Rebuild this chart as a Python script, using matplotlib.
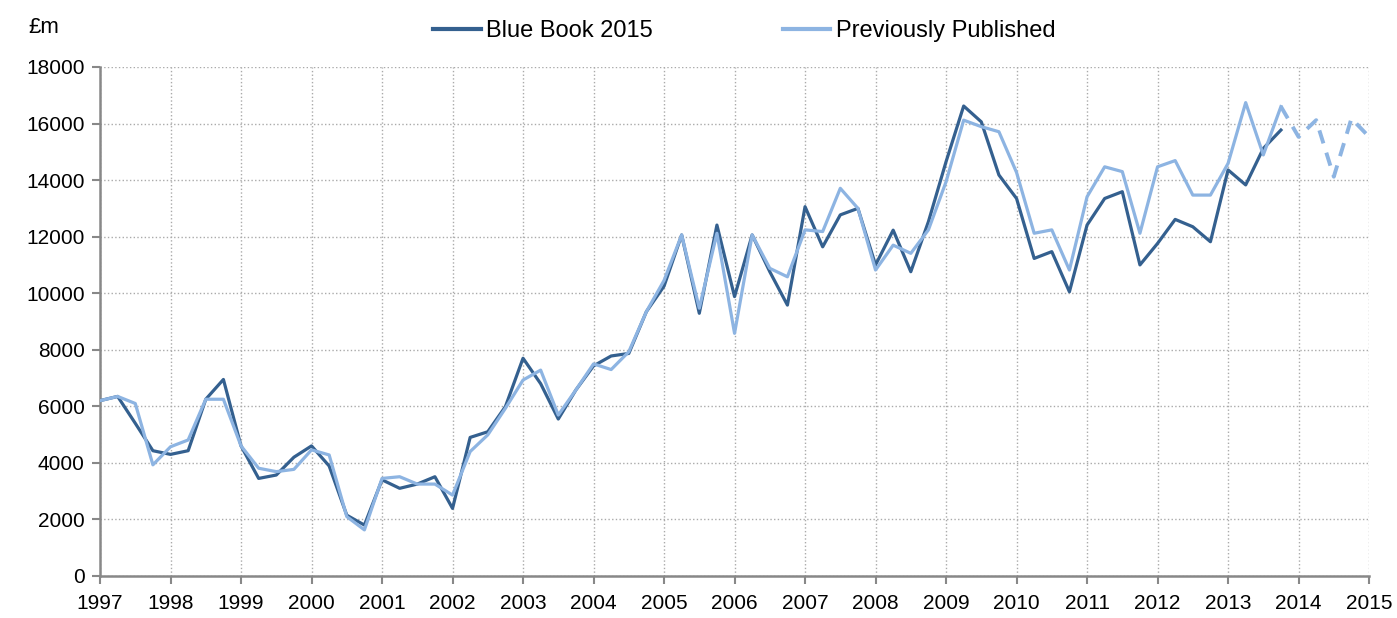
import numpy as np
import matplotlib.pyplot as plt

plt.rcParams['font.family'] = ['Liberation Sans', 'DejaVu Sans']

# quarterly figures, £m, starting 1997 Q1
blue_book_2015 = [6200, 6350, 5400, 4430, 4300, 4430, 6250, 6950,
                  4600, 3450, 3570, 4200, 4600, 3890, 2150, 1800,
                  3400, 3100, 3250, 3510, 2390, 4900, 5100, 5990,
                  7700, 6800, 5550, 6580, 7430, 7780, 7870, 9350,
                  10250, 12060, 9290, 12410, 9880, 12060, 10760, 9580,
                  13060, 11640, 12770, 13000, 11000, 12230, 10760, 12530,
                  14650, 16620, 16060, 14180, 13350, 11230, 11470, 10050,
                  12410, 13350, 13590, 11000, 11760, 12610, 12350, 11820,
                  14360, 13830, 15120, 15770]

prev_published = [6200, 6350, 6100, 3930, 4570, 4810, 6250, 6250,
                  4600, 3810, 3690, 3770, 4460, 4280, 2100, 1630,
                  3450, 3510, 3250, 3250, 2860, 4400, 4990, 5930,
                  6930, 7280, 5690, 6580, 7500, 7300, 7930, 9350,
                  10450, 12060, 9470, 12120, 8580, 12060, 10880, 10580,
                  12240, 12180, 13710, 13000, 10820, 11700, 11410, 12240,
                  13940, 16120, 15890, 15710, 14270, 12120, 12240, 10820,
                  13410, 14470, 14300, 12120, 14470, 14690, 13470, 13470,
                  14590, 16740, 14890, 16600]
# later quarters of the previous estimate, shown dashed
prev_published_tail = [15530, 16120, 14120, 16180, 15530]

years = list(range(1997, 2016))
yticks = list(range(0, 18001, 2000))

dark = '#34608F'
light = '#8DB4E2'

x_bb = 1997 + 0.25 * np.arange(len(blue_book_2015))
x_pp = 1997 + 0.25 * np.arange(len(prev_published))
x_tail = 1997 + 0.25 * np.arange(len(prev_published) - 1,
                                 len(prev_published) + len(prev_published_tail))
y_tail = [prev_published[-1]] + prev_published_tail

fig = plt.figure(figsize=(13.97, 6.18), dpi=100)
ax = fig.add_axes([0.0716, 0.068, 0.9084, 0.8236])

ax.plot(x_bb, blue_book_2015, color=dark, lw=2.3, label='Blue Book 2015', zorder=3)
ax.plot(x_pp, prev_published, color=light, lw=2.3, label='Previously Published', zorder=4)
ax.plot(x_tail, y_tail, color=light, lw=2.8, ls=(0, (3.5, 2.5)), zorder=4)

ax.set_xlim(1997, 2015)
ax.set_ylim(0, 18000)
ax.set_xticks(years)
ax.set_yticks(yticks)
ax.tick_params(axis='both', labelsize=15, colors='#888888', labelcolor='black',
               width=1.5, length=6)
ax.tick_params(axis='x', pad=7)
ax.tick_params(axis='y', pad=5)
ax.grid(True, ls=':', color='#aaaaaa', lw=1)
ax.set_axisbelow(True)
for s in ['top', 'right']:
    ax.spines[s].set_visible(False)
for s in ['left', 'bottom']:
    ax.spines[s].set_color('#888888')
    ax.spines[s].set_linewidth(1.8)

leg = fig.legend(loc='center', bbox_to_anchor=(0.533, 0.95), ncol=2, frameon=False,
                 fontsize=17, handlelength=2.0, handletextpad=0.25, columnspacing=5.5)
for h in leg.get_lines():
    h.set_linewidth(3)
fig.text(0.02, 0.955, '£m', fontsize=16, va='center')

fig.savefig('out.png', dpi=100)
